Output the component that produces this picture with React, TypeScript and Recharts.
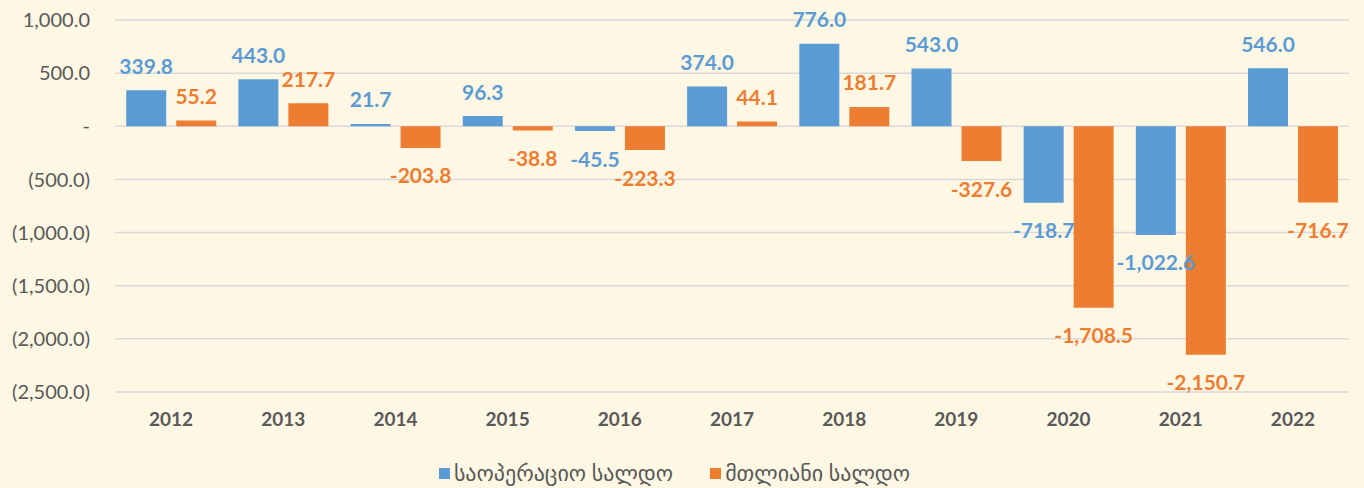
import { Bar, BarChart, CartesianGrid, LabelList, Legend, XAxis, YAxis } from "recharts";

const years = ["2012", "2013", "2014", "2015", "2016", "2017", "2018", "2019", "2020", "2021", "2022"];
const operatingBalance = [339.8, 443.0, 21.7, 96.3, -45.5, 374.0, 776.0, 543.0, -718.7, -1022.6, 546.0];
const totalBalance = [55.2, 217.7, -203.8, -38.8, -223.3, 44.1, 181.7, -327.6, -1708.5, -2150.7, -716.7];
const yTicks = [1000, 500, 0, -500, -1000, -1500, -2000, -2500];

const seriesNames = { operating: "საოპერაციო სალდო", total: "მთლიანი სალდო" };
const BLUE = "#5B9BD5";
const ORANGE = "#ED7D31";
const TEXT = "#595959";
const FONT = "Lato, 'DejaVu Sans', sans-serif";

const data = years.map((year, i) => ({
  year,
  operating: operatingBalance[i],
  total: totalBalance[i],
}));

const fmt = (v: number) =>
  Math.abs(v).toLocaleString("en-US", { minimumFractionDigits: 1, maximumFractionDigits: 1 });

const yTickFormat = (v: number) => (v === 0 ? "-" : v < 0 ? `(${fmt(v)})` : fmt(v));

function valueLabel(color: string) {
  return (props: any) => {
    const { x, y, width, height, value } = props;
    const v = Number(value);
    const top = Math.min(y, y + height);
    const bottom = Math.max(y, y + height);
    const cy = v >= 0 ? top - 25 : bottom + 27;
    return (
      <text
        x={x + width / 2}
        y={cy}
        textAnchor="middle"
        dominantBaseline="central"
        fill={color}
        fontSize={21}
        fontWeight={700}
        fontFamily={FONT}
      >
        {(v < 0 ? "-" : "") + fmt(v)}
      </text>
    );
  };
}

function LegendContent() {
  const items = [
    { name: seriesNames.operating, color: BLUE },
    { name: seriesNames.total, color: ORANGE },
  ];
  return (
    <div style={{ display: "flex", justifyContent: "center", gap: 37, paddingTop: 12, fontFamily: FONT }}>
      {items.map((it) => (
        <div key={it.name} style={{ display: "flex", alignItems: "center", gap: 4 }}>
          <span style={{ width: 11, height: 11, background: it.color, display: "inline-block" }} />
          <span style={{ fontSize: 22, color: TEXT, lineHeight: "26px" }}>{it.name}</span>
        </div>
      ))}
    </div>
  );
}

export default function App() {
  return (
    <div style={{ position: "absolute", left: 0, top: 0, width: 1364, height: 488, background: "#FEF7E4" }}>
      <BarChart
        width={1364}
        height={488}
        data={data}
        margin={{ top: 20, right: 15, bottom: 0, left: 0 }}
        barCategoryGap="10%"
        barGap={10}
      >
        <CartesianGrid vertical={false} stroke="#d9d9d9" strokeWidth={1.5} />
        <YAxis
          width={115}
          domain={[-2500, 1000]}
          ticks={yTicks}
          interval={0}
          tickFormatter={yTickFormat}
          axisLine={false}
          tickLine={false}
          tickMargin={19}
          tick={{ fill: TEXT, fontSize: 20, fontFamily: FONT }}
        />
        <XAxis
          dataKey="year"
          height={56}
          axisLine={false}
          tickLine={false}
          tickMargin={15}
          tick={{ fill: TEXT, fontSize: 19, fontWeight: 700, fontFamily: FONT }}
        />
        <Legend verticalAlign="bottom" height={40} content={() => <LegendContent />} />
        <Bar dataKey="operating" name={seriesNames.operating} fill={BLUE} isAnimationActive={false}>
          <LabelList dataKey="operating" content={valueLabel(BLUE)} />
        </Bar>
        <Bar dataKey="total" name={seriesNames.total} fill={ORANGE} isAnimationActive={false}>
          <LabelList dataKey="total" content={valueLabel(ORANGE)} />
        </Bar>
      </BarChart>
    </div>
  );
}
